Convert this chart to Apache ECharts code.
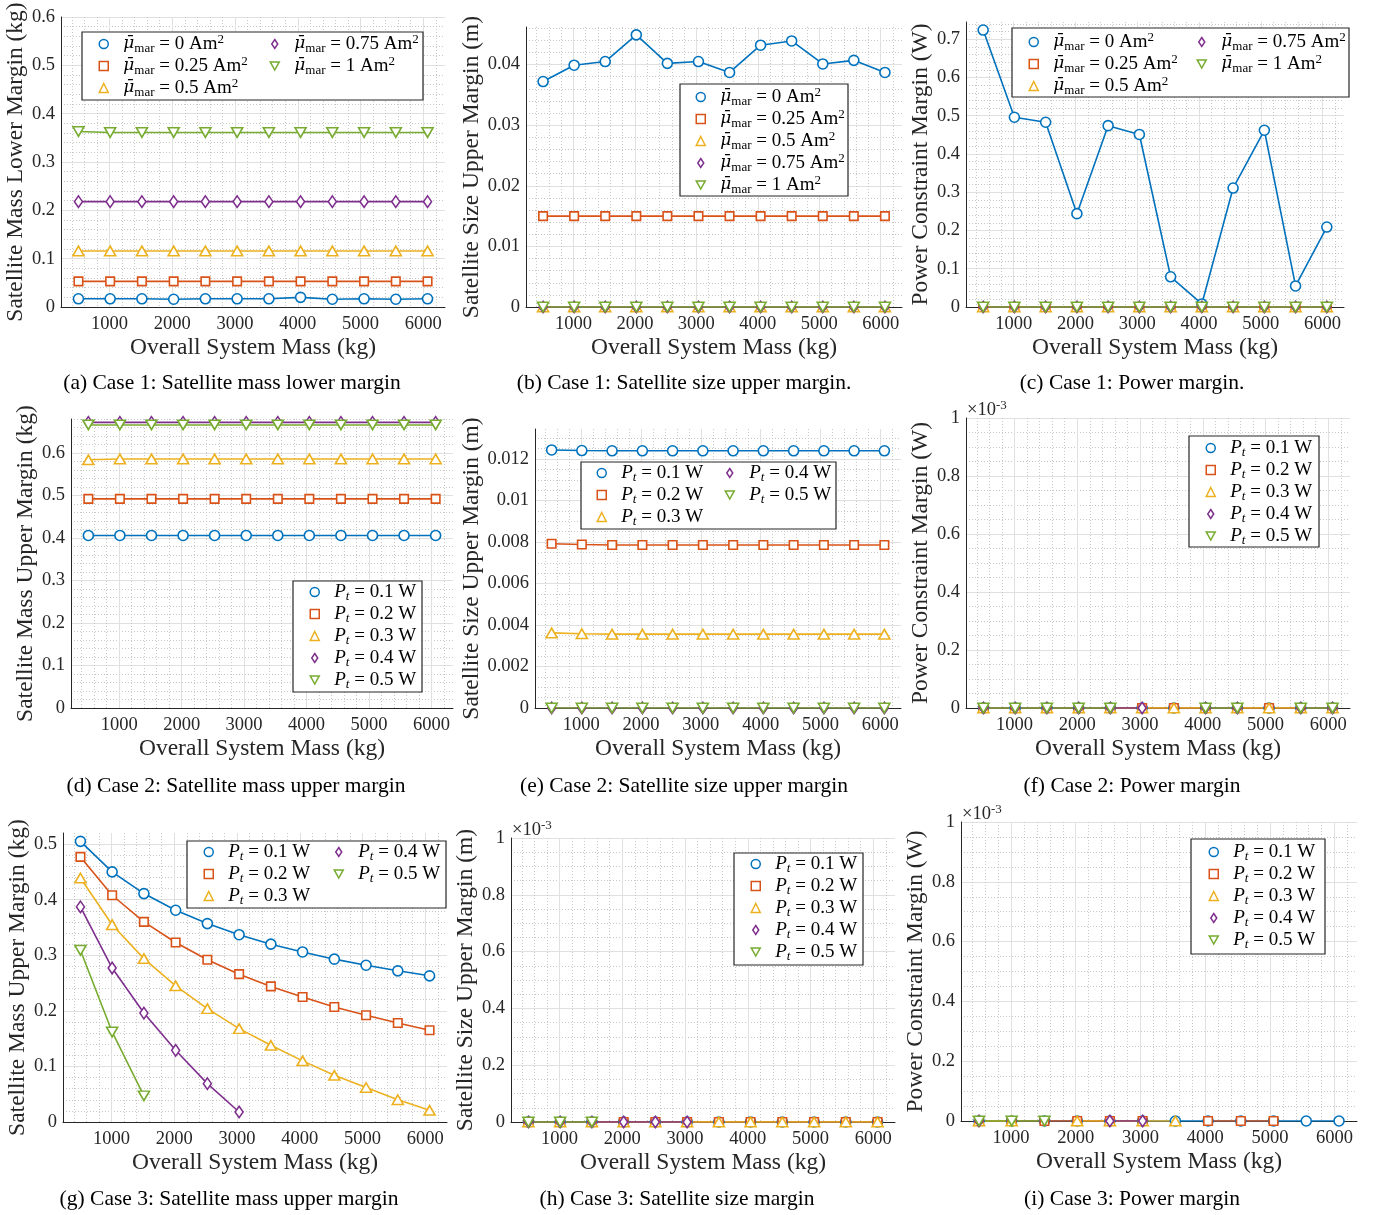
<!DOCTYPE html>
<html>
<head>
<meta charset="utf-8">
<title>Margins versus overall system mass</title>
<script src="https://cdn.jsdelivr.net/npm/echarts@6/dist/echarts.min.js"></script>
<style>
  html, body { margin: 0; padding: 0; background: #ffffff; }
  #chart { width: 1375px; height: 1215px; }
</style>
</head>
<body>
<div id="chart"></div>
<script>
// ---------------------------------------------------------------------------
// Data
// ---------------------------------------------------------------------------
// Overall system mass (kg) at each design point
const massX = [506, 1011, 1517, 2023, 2528, 3034, 3540, 4045, 4551, 5057, 5562, 6068];

// Sweep parameters
const muValues = ['0', '0.25', '0.5', '0.75', '1'];      // mean magnetorquer dipole (Am^2)
const ptValues = ['0.1', '0.2', '0.3', '0.4', '0.5'];    // transmit power (W)

// Case 1: satellite mass lower margin (kg), one row per dipole value
const case1MassLower = [
  [0.017, 0.017, 0.017, 0.016, 0.017, 0.017, 0.017, 0.020, 0.016, 0.017, 0.016, 0.017],
  [0.053, 0.053, 0.053, 0.053, 0.053, 0.053, 0.053, 0.053, 0.053, 0.053, 0.053, 0.053],
  [0.116, 0.116, 0.116, 0.116, 0.116, 0.116, 0.116, 0.116, 0.116, 0.116, 0.116, 0.116],
  [0.218, 0.218, 0.218, 0.218, 0.218, 0.218, 0.218, 0.218, 0.218, 0.218, 0.218, 0.218],
  [0.363, 0.361, 0.361, 0.361, 0.361, 0.361, 0.361, 0.361, 0.361, 0.361, 0.361, 0.361]
];

// Case 1: satellite size upper margin (m)
const case1SizeUpper = [
  [0.0372, 0.0399, 0.0405, 0.0449, 0.0402, 0.0405, 0.0387, 0.0432, 0.0439, 0.0401, 0.0407, 0.0387],
  [0.0150, 0.0150, 0.0150, 0.0150, 0.0150, 0.0150, 0.0150, 0.0150, 0.0150, 0.0150, 0.0150, 0.0150],
  [0, 0, 0, 0, 0, 0, 0, 0, 0, 0, 0, 0],
  [0, 0, 0, 0, 0, 0, 0, 0, 0, 0, 0, 0],
  [0, 0, 0, 0, 0, 0, 0, 0, 0, 0, 0, 0]
];

// Case 1: power constraint margin (W)
const case1Power = [
  [0.724, 0.496, 0.483, 0.244, 0.474, 0.451, 0.079, 0.008, 0.311, 0.462, 0.055, 0.209],
  [0, 0, 0, 0, 0, 0, 0, 0, 0, 0, 0, 0],
  [0, 0, 0, 0, 0, 0, 0, 0, 0, 0, 0, 0],
  [0, 0, 0, 0, 0, 0, 0, 0, 0, 0, 0, 0],
  [0, 0, 0, 0, 0, 0, 0, 0, 0, 0, 0, 0]
];

// Case 2: satellite mass upper margin (kg), one row per transmit power
const case2MassUpper = [
  [0.406, 0.406, 0.406, 0.406, 0.406, 0.406, 0.406, 0.406, 0.406, 0.406, 0.406, 0.406],
  [0.492, 0.492, 0.492, 0.492, 0.492, 0.492, 0.492, 0.492, 0.492, 0.492, 0.492, 0.492],
  [0.584, 0.586, 0.586, 0.586, 0.586, 0.586, 0.586, 0.586, 0.586, 0.586, 0.586, 0.586],
  [0.672, 0.672, 0.672, 0.672, 0.672, 0.672, 0.672, 0.672, 0.672, 0.672, 0.672, 0.672],
  [0.666, 0.666, 0.666, 0.666, 0.666, 0.666, 0.666, 0.666, 0.666, 0.666, 0.666, 0.666]
];

// Case 2: satellite size upper margin (m)
const case2SizeUpper = [
  [0.01244, 0.01241, 0.0124, 0.0124, 0.0124, 0.0124, 0.0124, 0.0124, 0.0124, 0.0124, 0.0124, 0.0124],
  [0.00792, 0.00788, 0.00786, 0.00786, 0.00786, 0.00786, 0.00786, 0.00786, 0.00786, 0.00786, 0.00786, 0.00786],
  [0.00362, 0.00358, 0.00356, 0.00356, 0.00356, 0.00356, 0.00356, 0.00356, 0.00356, 0.00356, 0.00356, 0.00356],
  [0, 0, 0, 0, 0, 0, 0, 0, 0, 0, 0, 0],
  [0, 0, 0, 0, 0, 0, 0, 0, 0, 0, 0, 0]
];

// Case 2: power constraint margin (W); null = no feasible design
const case2Power = [
  [0, 0, 0, 0, 0, 0, 0, 0, 0, 0, 0, 0],
  [0, 0, 0, 0, 0, 0, 0, 0, 0, 0, 0, 0],
  [0, 0, 0, 0, 0, 0, 0, 0, 0, 0, 0, 0],
  [0, 0, 0, 0, 0, 0, null, 0, 0, null, 0, 0],
  [0, 0, 0, 0, 0, null, null, 0, 0, null, 0, 0]
];

// Case 3: satellite mass upper margin (kg)
const case3MassUpper = [
  [0.505, 0.450, 0.411, 0.381, 0.357, 0.337, 0.320, 0.306, 0.293, 0.282, 0.272, 0.263],
  [0.477, 0.408, 0.360, 0.323, 0.292, 0.266, 0.244, 0.225, 0.207, 0.192, 0.178, 0.165],
  [0.439, 0.355, 0.294, 0.245, 0.204, 0.168, 0.138, 0.110, 0.084, 0.062, 0.040, 0.021],
  [0.387, 0.277, 0.196, 0.129, 0.069, 0.018, null, null, null, null, null, null],
  [0.309, 0.162, 0.047, null, null, null, null, null, null, null, null, null]
];

// Case 3: satellite size margin (m)
const case3SizeUpper = [
  [0, 0, 0, 0, 0, 0, 0, 0, 0, 0, 0, 0],
  [0, 0, 0, 0, 0, 0, 0, 0, 0, 0, 0, 0],
  [0, 0, 0, 0, 0, 0, 0, 0, 0, 0, 0, 0],
  [0, 0, 0, 0, 0, 0, null, null, null, null, null, null],
  [0, 0, 0, null, null, null, null, null, null, null, null, null]
];

// Case 3: power constraint margin (W)
const case3Power = [
  [0, 0, 0, 0, 0, 0, 0, 0, 0, 0, 0, 0],
  [0, 0, 0, 0, 0, 0, null, 0, 0, 0, null, null],
  [0, 0, null, 0, 0, 0, 0, null, null, null, null, null],
  [0, null, null, null, 0, 0, null, null, null, null, null, null],
  [0, 0, 0, null, null, null, null, null, null, null, null, null]
];

const captions = [
  '(a) Case 1: Satellite mass lower margin',
  '(b) Case 1: Satellite size upper margin.',
  '(c) Case 1: Power margin.',
  '(d) Case 2: Satellite mass upper margin',
  '(e) Case 2: Satellite size upper margin',
  '(f) Case 2: Power margin',
  '(g) Case 3: Satellite mass upper margin',
  '(h) Case 3: Satellite size margin',
  '(i) Case 3: Power margin'
];
const yTitles = [
  'Satellite Mass Lower Margin (kg)', 'Satellite Size Upper Margin (m)', 'Power Constraint Margin (W)',
  'Satellite Mass Upper Margin (kg)', 'Satellite Size Upper Margin (m)', 'Power Constraint Margin (W)',
  'Satellite Mass Upper Margin (kg)', 'Satellite Size Upper Margin (m)', 'Power Constraint Margin (W)'
];
const xTitle = 'Overall System Mass (kg)';

// ---------------------------------------------------------------------------
// Styling and layout
// ---------------------------------------------------------------------------
const FONT = '"Liberation Serif", "Times New Roman", serif';
const MATH_FONT = '"DejaVu Serif", "Liberation Serif", serif';
const INK = '#262626';
const TICK_SIZE = 18.5;
const TITLE_SIZE = 23.5;
const lineColors = ['#0072BD', '#D95319', '#EDB120', '#7E2F8E', '#77AC30'];
const DOWN_TRI = 'path://M0,0L10,0L5,9Z';
const markerSymbols = ['circle', 'rect', 'triangle', 'diamond', DOWN_TRI];
const markerSizes = [10, 8.5, [11, 9.5], [8, 11.5], [11, 9.5]];
const legendIcons = ['circle', 'rect', 'triangle', 'path://M3,0L6,4.5L3,9L0,4.5Z', DOWN_TRI];

const muNames = muValues.map(v => 'μ\u0304mar = ' + v + ' Am²');
const ptNames = ptValues.map(v => 'Pt = ' + v + ' W');

// One entry per panel: plot box [left, top, width, height], y range,
// legend columns [iconCenterX, firstRowCenterY, seriesIndices] and legend frame.
const panels = [
  { rows: case1MassLower, kind: 'mu', box: [61, 17, 384, 290], yMax: 0.6, yStep: 0.1, yMinor: 5, yGap: 31,
    cap: [232, 383], cols: [[103, 44, [0, 1, 2]], [274, 44, [3, 4]]], frame: [82, 32, 423, 100] },
  { rows: case1SizeUpper, kind: 'mu', box: [526, 27, 376, 280], yMax: 0.0462, yStep: 0.01, yMinor: 5, yGap: 38,
    cap: [684, 383], cols: [[700, 97, [0, 1, 2, 3, 4]]], frame: [680, 84, 848, 196] },
  { rows: case1Power, kind: 'mu', box: [966, 22, 378, 285], yMax: 0.745, yStep: 0.1, yMinor: 5, yGap: 30,
    cap: [1132, 383], cols: [[1033, 42, [0, 1, 2]], [1201, 42, [3, 4]]], frame: [1012, 28, 1349, 97] },
  { rows: case2MassUpper, kind: 'pt', box: [71, 419, 382, 289], yMax: 0.68, yStep: 0.1, yMinor: 5, yGap: 31,
    cap: [236, 786], cols: [[314, 592, [0, 1, 2, 3, 4]]], frame: [293, 581, 422, 692] },
  { rows: case2SizeUpper, kind: 'pt', box: [535, 429, 366, 279], yMax: 0.01345, yStep: 0.002, yMinor: 4, yGap: 47,
    cap: [684, 786], cols: [[601, 473, [0, 1, 2]], [729, 473, [3, 4]]], frame: [581, 462, 836, 529] },
  { rows: case2Power, kind: 'pt', box: [966, 418, 384, 290], yMax: 0.001, yStep: 0.0002, yMinor: 4, yGap: 31,
    milli: true, cap: [1132, 786], cols: [[1210, 448, [0, 1, 2, 3, 4]]], frame: [1189, 436, 1319, 547] },
  { rows: case3MassUpper, kind: 'pt', box: [63, 833, 384, 289], yMax: 0.52, yStep: 0.1, yMinor: 5, yGap: 30,
    cap: [229, 1199], cols: [[208, 852, [0, 1, 2]], [338, 852, [3, 4]]], frame: [187, 841, 446, 908] },
  { rows: case3SizeUpper, kind: 'pt', box: [511, 838, 384, 284], yMax: 0.001, yStep: 0.0002, yMinor: 4, yGap: 30,
    milli: true, cap: [677, 1199], cols: [[755, 864, [0, 1, 2, 3, 4]]], frame: [734, 853, 863, 965] },
  { rows: case3Power, kind: 'pt', box: [961, 822, 396, 299], yMax: 0.001, yStep: 0.0002, yMinor: 4, yGap: 31,
    milli: true, cap: [1132, 1199], cols: [[1213, 852, [0, 1, 2, 3, 4]]], frame: [1191, 839, 1325, 954] }
];

const X_MIN = 228, X_MAX = 6346;

// ---------------------------------------------------------------------------
// Legend text with sub/superscripts
// ---------------------------------------------------------------------------
function legendLabel(name) {
  let k = muNames.indexOf(name);
  if (k >= 0) return '{m|μ\u0304}{s|mar}{t| = ' + muValues[k] + ' Am}{p|2}';
  k = ptNames.indexOf(name);
  return '{pi|P}{si|t}{t| = ' + ptValues[k] + ' W}';
}
const legendRich = {
  m: { fontFamily: MATH_FONT, fontStyle: 'italic', fontSize: 17, lineHeight: 22, color: '#000' },
  pi: { fontFamily: FONT, fontStyle: 'italic', fontSize: 19, lineHeight: 22, color: '#000' },
  t: { fontFamily: FONT, fontSize: 19, lineHeight: 22, color: '#000' },
  s: { fontFamily: FONT, fontSize: 13, lineHeight: 13, verticalAlign: 'bottom', color: '#000' },
  si: { fontFamily: FONT, fontStyle: 'italic', fontSize: 13, lineHeight: 13, verticalAlign: 'bottom', color: '#000' },
  p: { fontFamily: FONT, fontSize: 13, lineHeight: 13, verticalAlign: 'top', color: '#000' }
};

// ---------------------------------------------------------------------------
// Build option
// ---------------------------------------------------------------------------
const grids = [], xAxes = [], yAxes = [], series = [], legends = [], graphics = [];

panels.forEach((p, i) => {
  const names = p.kind === 'mu' ? muNames : ptNames;
  const [gl, gt, gw, gh] = p.box;
  const topIsTick = Math.abs(p.yMax / p.yStep - Math.round(p.yMax / p.yStep)) < 1e-6;

  grids.push({ left: gl, top: gt, width: gw, height: gh, containLabel: false, outerBoundsMode: 'none' });

  xAxes.push({
    type: 'value', gridIndex: i, min: X_MIN, max: X_MAX, splitNumber: 6,
    axisLine: { show: true, onZero: false, lineStyle: { color: INK, width: 1 } },
    axisTick: { show: false },
    axisLabel: {
      margin: 8, fontFamily: FONT, fontSize: TICK_SIZE, color: INK,
      showMinLabel: false, showMaxLabel: false,
      formatter: v => (v % 1000 === 0 ? String(v) : '')
    },
    splitLine: { show: true, showMaxLine: false, lineStyle: { color: '#e0e0e0', width: 1 } },
    minorTick: { show: false, splitNumber: 5 },
    minorSplitLine: { show: true, lineStyle: { color: '#c8c8c8', width: 1, type: [1, 2] } },
    name: xTitle, nameLocation: 'middle', nameGap: 29,
    nameTextStyle: { fontFamily: FONT, fontSize: TITLE_SIZE, color: INK }
  });

  yAxes.push({
    type: 'value', gridIndex: i, min: 0, max: p.yMax, interval: p.yStep,
    axisLine: { show: true, onZero: false, lineStyle: { color: INK, width: 1 } },
    axisTick: { show: false },
    axisLabel: {
      margin: 6, fontFamily: FONT, fontSize: TICK_SIZE, color: INK,
      showMaxLabel: topIsTick,
      formatter: p.milli ? (v => String(Math.round(v * 1e4) / 10)) : (v => String(+v.toPrecision(6)))
    },
    splitLine: { show: true, showMaxLine: topIsTick, lineStyle: { color: '#e0e0e0', width: 1 } },
    minorTick: { show: false, splitNumber: p.yMinor },
    minorSplitLine: { show: true, lineStyle: { color: '#c8c8c8', width: 1, type: [1, 2] } },
    name: yTitles[i], nameLocation: 'middle', nameGap: p.yGap, nameRotate: 90,
    nameTextStyle: { fontFamily: FONT, fontSize: TITLE_SIZE, color: INK }
  });

  p.rows.forEach((ys, k) => {
    series.push({
      type: 'line', name: names[k], xAxisIndex: i, yAxisIndex: i,
      data: massX.map((x, j) => [x, ys[j] === null ? '-' : ys[j]]),
      symbol: markerSymbols[k], symbolSize: markerSizes[k],
      showSymbol: true, showAllSymbol: true, connectNulls: false,
      lineStyle: { color: lineColors[k], width: 1.6 },
      itemStyle: { color: '#ffffff', borderColor: lineColors[k], borderWidth: 1.6 },
      emphasis: { disabled: true }, silent: true, z: 2
    });
  });

  p.cols.forEach(([cx, cy, idx]) => {
    legends.push({
      orient: 'vertical', left: cx - 4.5, top: cy - 11, padding: 0, itemGap: 0,
      itemWidth: 9, itemHeight: 9, selectedMode: false, z: 5,
      data: idx.map(k => ({
        name: names[k], icon: legendIcons[k],
        itemStyle: { color: '#ffffff', borderColor: lineColors[k], borderWidth: 1.5 }
      })),
      formatter: legendLabel,
      textStyle: { fontFamily: FONT, fontSize: 19, lineHeight: 22, color: '#000', padding: [0, 0, 0, 10], rich: legendRich }
    });
  });

  // legend frame
  const [fx0, fy0, fx1, fy1] = p.frame;
  graphics.push({
    type: 'rect', z: 3, silent: true,
    shape: { x: fx0, y: fy0, width: fx1 - fx0, height: fy1 - fy0 },
    style: { fill: '#ffffff', stroke: INK, lineWidth: 1.2 }
  });

  // sub-figure caption
  graphics.push({
    type: 'text', z: 3, silent: true, x: p.cap[0], y: p.cap[1],
    style: { text: captions[i], fontFamily: FONT, fontSize: 21.5, fill: '#000', align: 'center', verticalAlign: 'middle' }
  });

  // axis exponent for milli-scaled panels
  if (p.milli) {
    graphics.push({
      type: 'text', z: 3, silent: true, x: gl + 1, y: gt - 8,
      style: {
        text: '{b|×10}{e|-3}', fill: INK, align: 'left', verticalAlign: 'middle',
        rich: {
          b: { fontFamily: FONT, fontSize: 18.5, lineHeight: 22, fill: INK },
          e: { fontFamily: FONT, fontSize: 13, lineHeight: 13, verticalAlign: 'top', fill: INK }
        }
      }
    });
  }
});

const chart = echarts.init(document.getElementById('chart'), null, { renderer: 'canvas' });
chart.setOption({
  animation: false,
  backgroundColor: '#ffffff',
  textStyle: { fontFamily: FONT },
  grid: grids,
  xAxis: xAxes,
  yAxis: yAxes,
  legend: legends,
  series: series,
  graphic: { elements: graphics }
});
</script>
</body>
</html>
